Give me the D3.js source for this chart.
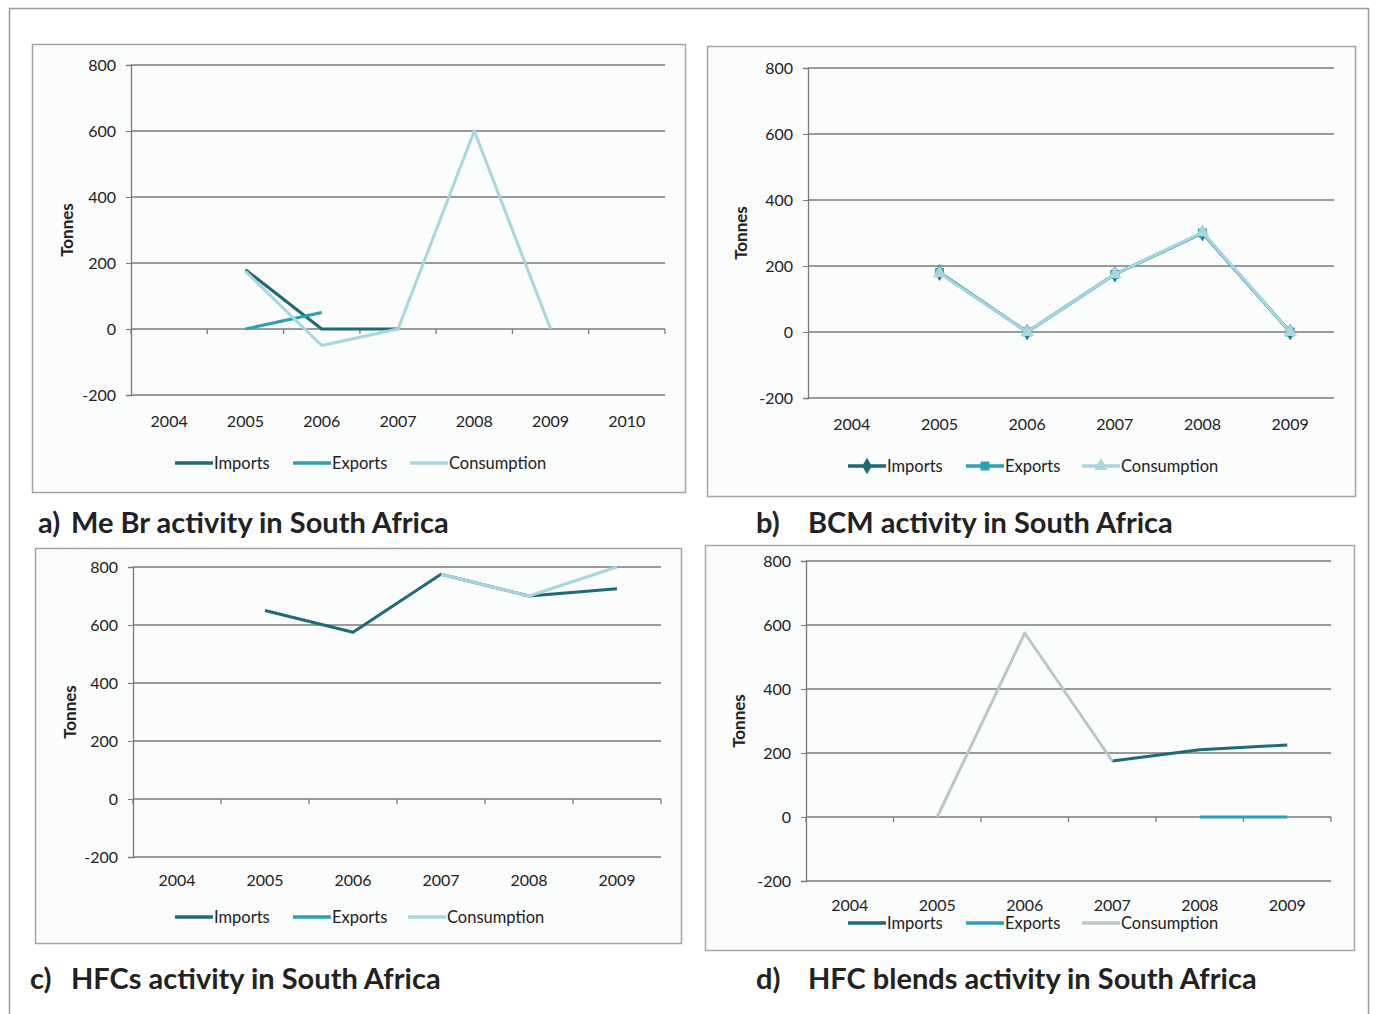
<!DOCTYPE html>
<html>
<head>
<meta charset="utf-8">
<script src="https://cdn.jsdelivr.net/npm/d3@7"></script>
<style>
body { margin: 0; background: #fff; }
text { font-family: Lato, "Open Sans", sans-serif; fill: #222; }
</style>
</head>
<body>
<svg id="chart" width="1375" height="1014"></svg>
<script>
// categories
var years7 = ["2004","2005","2006","2007","2008","2009","2010"];
var years6 = ["2004","2005","2006","2007","2008","2009"];
var yTicks = [-200, 0, 200, 400, 600, 800];
var seriesNames = ["Imports", "Exports", "Consumption"];

// a) Me Br
var mebrImports = [null, 180, 0, 0, null, null, null];
var mebrExports = [null, 0, 50, null, null, null, null];
var mebrConsumption = [null, 175, -50, 0, 600, 0, null];

// b) BCM
var bcmImports = [null, 180, 0, 175, 300, 0];
var bcmExports = [null, 180, 0, 175, 300, 0];
var bcmConsumption = [null, 178, 0, 175, 302, 0];

// c) HFCs
var hfcImports = [null, 650, 575, 775, 700, 725];
var hfcExports = [null, null, null, null, null, null];
var hfcConsumption = [null, null, null, 775, 700, 800];

// d) HFC blends
var blendImports = [null, null, null, 175, 210, 225];
var blendExports = [null, null, null, null, 0, 0];
var blendConsumption = [null, 0, 575, 175, null, null];

var colours = ["#1d6b74", "#2aa0b2", "#a7d6dc"];
var coloursD = ["#1d6b74", "#2aa0b2", "#bcc6c8"];

var panels = [
	{years: years7, data: [mebrImports, mebrExports, mebrConsumption], colours: colours, markers: false,
	 box: [32, 44, 653, 448], left: 131, right: 665, top: 65, bottom: 395, xLabY: 421, zeroTicks: true,
	 ylabX: 67, legendY: 463, legendX: [175, 293, 410],
	 tag: "a)", tagX: 38, title: "Me Br activity in South Africa", titleX: 71, titleY: 533},
	{years: years6, data: [bcmImports, bcmExports, bcmConsumption], colours: colours, markers: true,
	 box: [707, 46, 648, 450], left: 808, right: 1334, top: 68, bottom: 398, xLabY: 424, zeroTicks: false,
	 ylabX: 741, legendY: 466, legendX: [848, 966, 1082],
	 tag: "b)", tagX: 756, title: "BCM activity in South Africa", titleX: 808, titleY: 533},
	{years: years6, data: [hfcImports, hfcExports, hfcConsumption], colours: colours, markers: false,
	 box: [35, 548, 646, 395], left: 133, right: 661, top: 567, bottom: 857, xLabY: 880, zeroTicks: true,
	 ylabX: 70, legendY: 917, legendX: [175, 293, 408],
	 tag: "c)", tagX: 30, title: "HFCs activity in South Africa", titleX: 71, titleY: 989},
	{years: years6, data: [blendImports, blendExports, blendConsumption], colours: coloursD, markers: false,
	 box: [705, 545, 649, 405], left: 806, right: 1331, top: 561, bottom: 881, xLabY: 905, zeroTicks: true,
	 ylabX: 739, legendY: 923, legendX: [848, 966, 1082],
	 tag: "d)", tagX: 756, title: "HFC blends activity in South Africa", titleX: 808, titleY: 989}
];

var svg = d3.select("#chart");

// outer frame
svg.append("rect")
	.attr("x", 9.5).attr("y", 8.5)
	.attr("width", 1359).attr("height", 1010)
	.attr("fill", "none").attr("stroke", "#9a9a9a").attr("stroke-width", 1.5);

var symbols = [d3.symbolDiamond, d3.symbolSquare, d3.symbolTriangle];

panels.forEach(function (p) {
	var g = svg.append("g");

	g.append("rect")
		.attr("x", p.box[0] + 0.5).attr("y", p.box[1] + 0.5)
		.attr("width", p.box[2]).attr("height", p.box[3])
		.attr("fill", "#fbfcfc").attr("stroke", "#a4a4a4").attr("stroke-width", 1.5);

	var x = d3.scaleBand().domain(p.years).range([p.left, p.right]);
	var y = d3.scaleLinear().domain([-200, 800]).range([p.bottom, p.top]);

	// gridlines
	g.selectAll("line.grid")
		.data(yTicks)
		.enter().append("line")
		.attr("class", "grid")
		.attr("x1", p.left).attr("x2", p.right)
		.attr("y1", function (d) { return y(d); })
		.attr("y2", function (d) { return y(d); })
		.attr("stroke", "#7a7a7a").attr("stroke-width", 1.3);

	// y axis
	var yAxis = g.append("g")
		.attr("transform", "translate(" + p.left + ",0)")
		.call(d3.axisLeft(y).tickValues(yTicks).tickSize(5).tickPadding(10)
			.tickFormat(function (d) { return String(d); }));
	yAxis.select(".domain").attr("stroke", "#7a7a7a").attr("stroke-width", 1.3);
	yAxis.selectAll(".tick line").attr("stroke", "#7a7a7a");
	yAxis.selectAll("text").style("font-size", "16px").style("font-family", "Lato, sans-serif").attr("fill", "#222");

	// x axis on the zero line
	if (p.zeroTicks) {
		var bounds = p.years.map(function (d) { return x(d); }).concat([p.right]);
		g.selectAll("line.xt")
			.data(bounds)
			.enter().append("line")
			.attr("class", "xt")
			.attr("x1", function (d) { return d; }).attr("x2", function (d) { return d; })
			.attr("y1", y(0)).attr("y2", y(0) + 5)
			.attr("stroke", "#7a7a7a").attr("stroke-width", 1.3);
	}

	// x labels
	g.selectAll("text.xl")
		.data(p.years)
		.enter().append("text")
		.attr("class", "xl")
		.attr("x", function (d) { return x(d) + x.bandwidth() / 2; })
		.attr("y", p.xLabY)
		.attr("dy", "0.35em")
		.attr("text-anchor", "middle")
		.style("font-size", "16px")
		.text(function (d) { return d; });

	// y label
	g.append("text")
		.attr("transform", "translate(" + p.ylabX + "," + ((p.top + p.bottom) / 2) + ") rotate(-90)")
		.attr("text-anchor", "middle")
		.attr("dy", "0.35em")
		.style("font-size", "17px").style("font-weight", "bold")
		.text("Tonnes");

	// lines
	var line = d3.line()
		.defined(function (d) { return d.v != null; })
		.x(function (d) { return x(d.year) + x.bandwidth() / 2; })
		.y(function (d) { return y(d.v); });

	p.data.forEach(function (vals, s) {
		var pts = vals.map(function (v, i) { return {year: p.years[i], v: v}; });
		g.append("path")
			.datum(pts)
			.attr("d", line)
			.attr("fill", "none")
			.attr("stroke", p.colours[s])
			.attr("stroke-width", 3)
			.attr("stroke-linejoin", "round");
		if (p.markers) {
			g.selectAll("path.m" + s)
				.data(pts.filter(function (d) { return d.v != null; }))
				.enter().append("path")
				.attr("class", "m" + s)
				.attr("transform", function (d) { return "translate(" + (x(d.year) + x.bandwidth() / 2) + "," + y(d.v) + ")"; })
				.attr("d", d3.symbol().type(symbols[s]).size(80))
				.attr("fill", p.colours[s]);
		}
	});

	// legend
	seriesNames.forEach(function (name, s) {
		var lx = p.legendX[s];
		g.append("line")
			.attr("x1", lx).attr("x2", lx + 38)
			.attr("y1", p.legendY).attr("y2", p.legendY)
			.attr("stroke", p.colours[s]).attr("stroke-width", 3.5);
		if (p.markers) {
			g.append("path")
				.attr("transform", "translate(" + (lx + 19) + "," + p.legendY + ")")
				.attr("d", d3.symbol().type(symbols[s]).size(80))
				.attr("fill", p.colours[s]);
		}
		g.append("text")
			.attr("x", lx + 39).attr("y", p.legendY)
			.attr("dy", "0.35em")
			.style("font-size", "16.5px")
			.text(name);
	});

	// caption
	g.append("text")
		.attr("x", p.tagX).attr("y", p.titleY)
		.style("font-size", "29px").style("font-weight", "bold").attr("fill", "#111")
		.text(p.tag);
	g.append("text")
		.attr("x", p.titleX).attr("y", p.titleY)
		.style("font-size", "29px").style("font-weight", "bold").attr("fill", "#111")
		.text(p.title);
});
</script>
</body>
</html>
